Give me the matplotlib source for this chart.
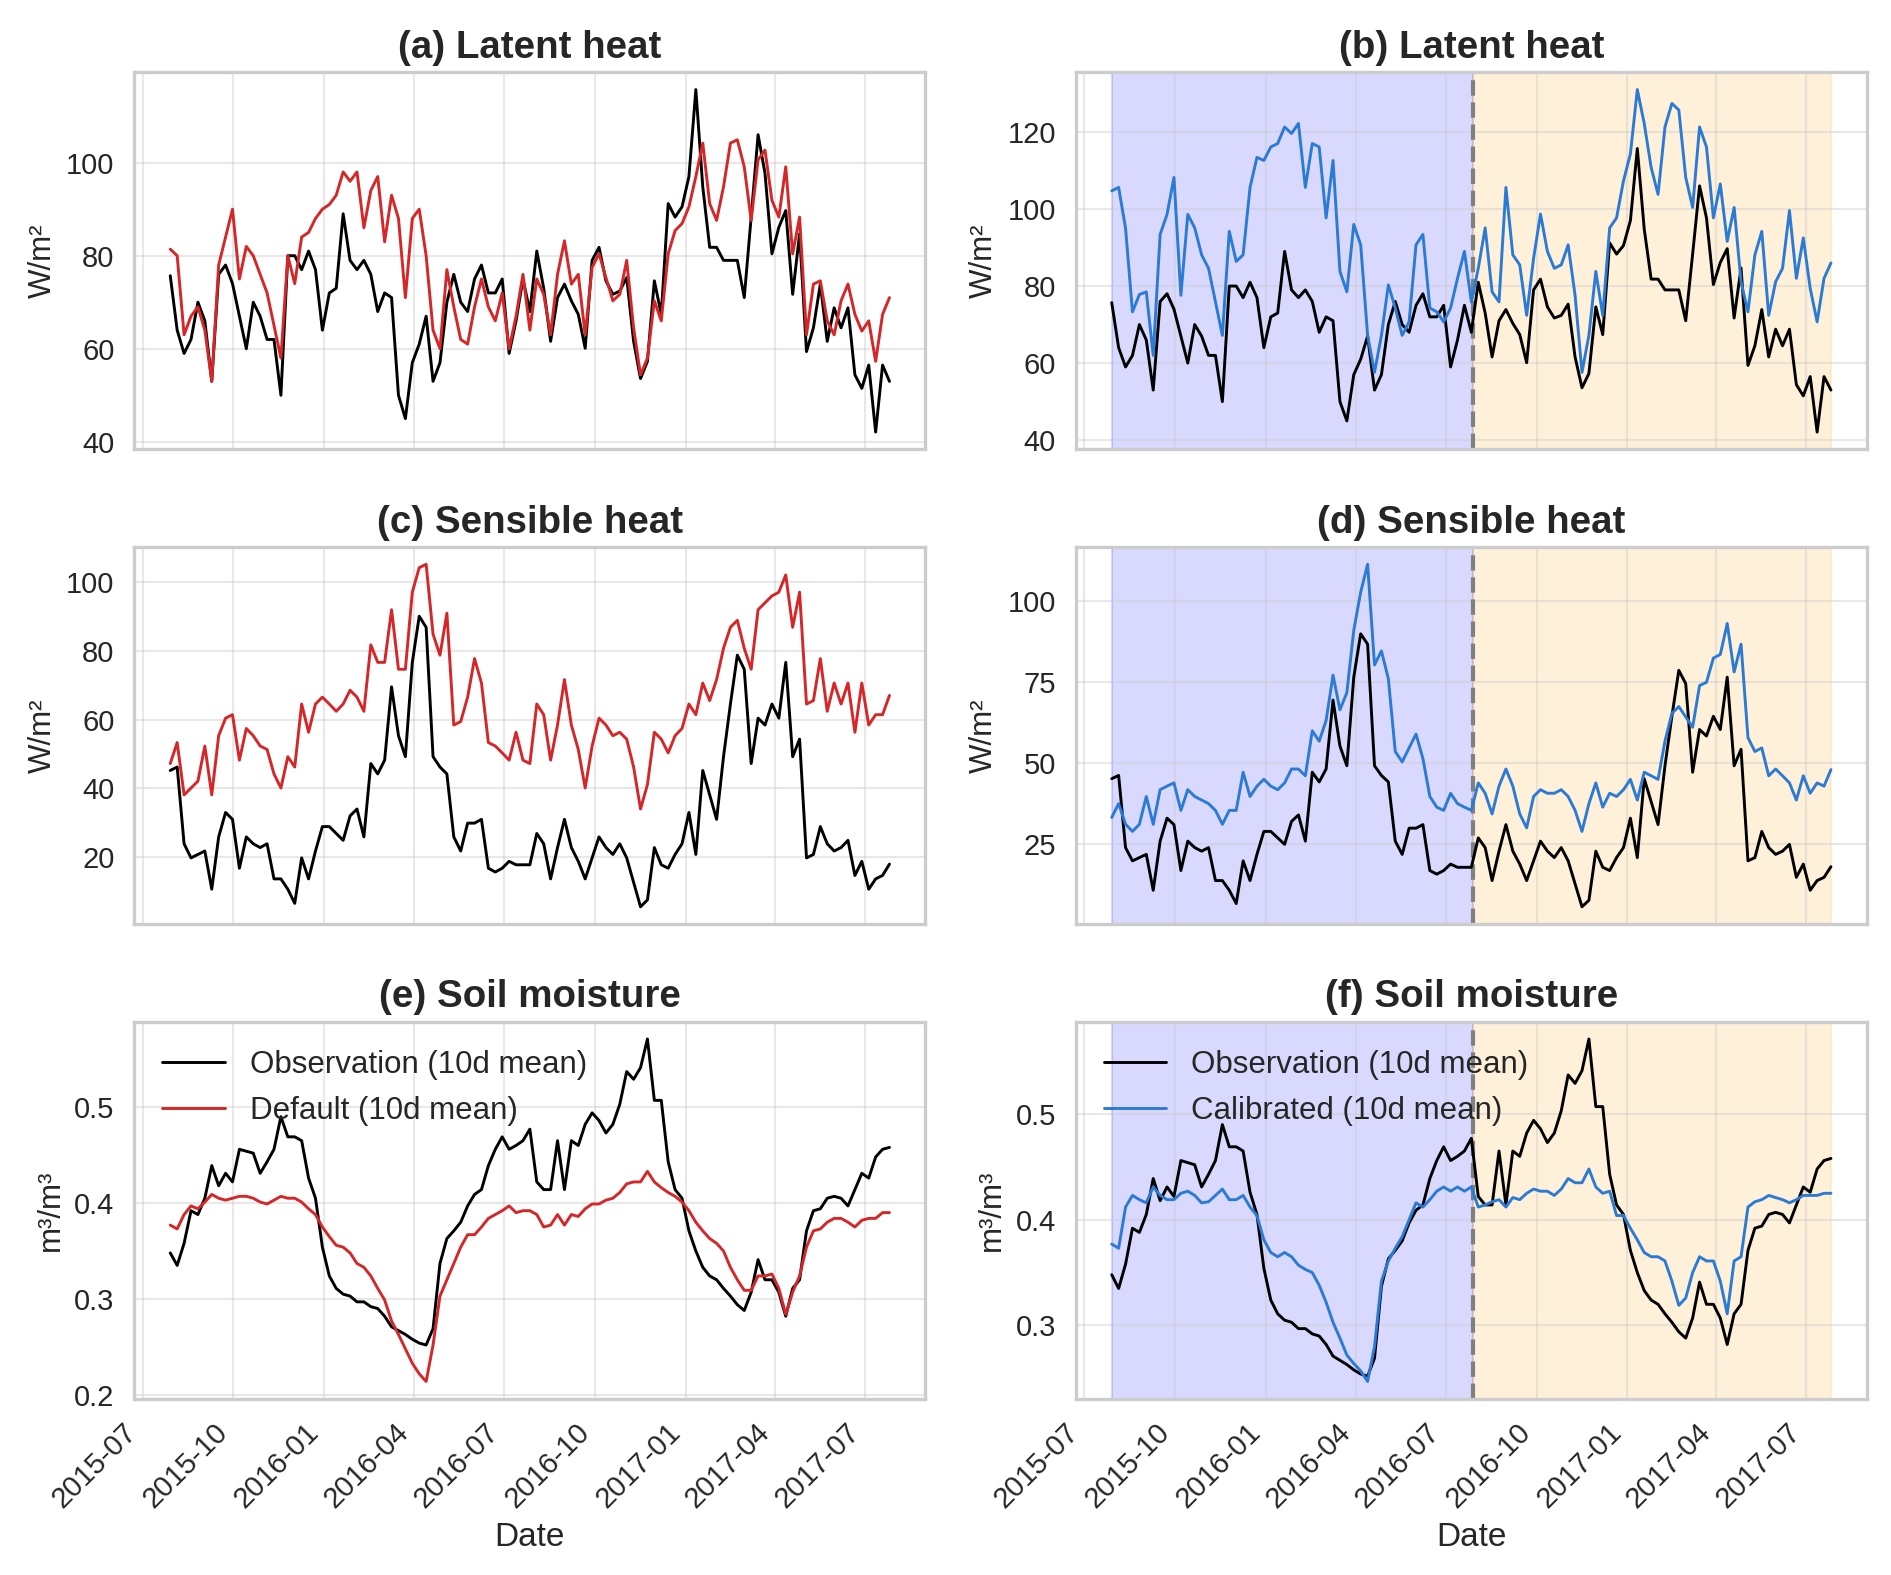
import matplotlib
matplotlib.use('Agg')
import matplotlib.pyplot as plt
import matplotlib.dates as mdates
from matplotlib.ticker import MultipleLocator
import pandas as pd
import seaborn as sns

dates = pd.date_range('2015-07-29', periods=105, freq='7D')
split_date = pd.Timestamp('2016-07-29')

le_obs = [75.7, 64, 59, 62, 70, 66, 53, 76, 78, 74, 67, 60, 70, 67, 62, 62, 50, 80, 80, 77,
          81, 77, 64, 72, 73, 89, 79, 77, 79, 76, 68, 72, 71, 50, 45, 57, 61, 67, 53, 57,
          70, 76, 70, 68, 75, 78, 72, 72, 75, 59, 66, 75, 68, 81, 73, 61.6, 71, 73.9, 70.3, 67.4,
          60.1, 79, 81.8, 74.6, 71.7, 72.4, 75.3, 61.6, 53.6, 57.3, 74.6, 67.4, 91.2, 88.3, 90.5, 97,
          115.7, 94.8, 81.8, 81.8, 79, 79, 79, 71, 88.3, 106, 97.7, 80.4, 86.1, 89.7, 71.7, 84.7,
          59.4, 64.5, 73.9, 61.6, 68.8, 64.5, 68.8, 54.4, 51.5, 56.5, 42.1, 56.5, 53]
le_default = [81.4, 80, 63, 67, 69, 64, 53, 78, 84, 90, 75, 82, 80, 76, 72, 65, 58, 80, 74, 84,
              85, 88, 90, 91, 93, 98, 96, 98, 86, 94, 97, 83, 93, 88, 71, 88, 90, 80, 64, 60,
              77, 69, 62, 61, 69, 75, 69, 66, 72, 60, 67, 76, 64, 75, 71.7, 63, 76, 83.2, 73.9, 76,
              63, 77.5, 80.4, 75.3, 70.3, 71.7, 79, 64.5, 54.4, 58, 70.3, 66, 80.4, 85.4, 86.9, 90.5,
              97, 104.2, 91.2, 87.6, 94.8, 104.2, 104.9, 99.1, 87.6, 100.6, 102.7, 91.9, 88.3, 99.1, 80.4, 88.3,
              63, 73.9, 74.6, 66, 63, 70.3, 73.9, 67.4, 63.8, 66, 57.3, 67.4, 71]
le_calib = [104.7, 105.6, 95, 73.3, 77.8, 78.5, 62, 93.4, 98.6, 108.2, 77.6, 98.6, 95.1, 88.1, 84.6,
            75.9, 67.2, 94.2, 86.4, 88.1, 105.6, 113.4, 112.6, 116.1, 117, 121.3, 119.6, 122.2, 105.6, 117,
            116.1, 97.7, 112.6, 83.8, 78.5, 96, 90.7, 67.2, 57.6, 67.2, 80.3, 74.3, 67.2, 70.7, 90.7,
            93.4, 74.3, 73.3, 70.7, 74.3, 82, 89, 75.9, 84.6, 95.1, 78.5, 75.9, 105.6, 88.1, 85.5,
            72.4, 87.2, 98.7, 89, 84.6, 85.5, 90.7, 77.6, 57.6, 67.2, 83.8, 72.4, 95.1, 97.7, 107.3,
            114.3, 131, 122.2, 110.8, 103.8, 121.3, 127.4, 125.7, 108.2, 100.4, 121.3, 116.1, 97.7, 106.5, 91.6,
            100.4, 81.1, 73.3, 88.1, 94.2, 72.4, 81.1, 84.6, 99.6, 82, 92.5, 79.4, 70.7, 82, 86]

h_obs = [45.2, 46.2, 23.9, 19.8, 20.8, 21.8, 10.7, 25.9, 33, 31, 16.8, 25.9, 23.9, 22.8, 23.9,
         13.7, 13.7, 10.7, 6.6, 19.8, 13.7, 21.8, 28.9, 28.9, 26.9, 24.9, 32, 34, 25.9, 47.2,
         44.2, 48.2, 69.5, 55.3, 49.2, 76.6, 90, 86.8, 49.2, 46.2, 44.2, 25.9, 21.8, 29.9, 29.9,
         31, 16.8, 15.7, 16.8, 18.8, 17.8, 17.8, 17.8, 26.9, 23.9, 13.7, 22.8, 31, 22.8, 18.8,
         13.7, 19.8, 25.9, 22.8, 20.8, 23.9, 19.8, 12.7, 5.6, 7.6, 22.8, 17.8, 16.8, 20.8, 23.9,
         33, 20.8, 45.2, 38.1, 31, 49.2, 64.5, 78.7, 74.6, 47.2, 60.4, 58.4, 64.5, 60.4, 76.6,
         49.2, 54.3, 19.8, 20.8, 28.9, 23.9, 21.8, 22.8, 24.9, 14.7, 18.8, 10.7, 13.7, 14.7, 18]
h_default = [47.2, 53.3, 38.1, 40.1, 42.1, 52.3, 38.1, 55.3, 60.4, 61.4, 48.2, 57.4, 55.3, 52.3, 51.3,
             44.2, 40.1, 49.2, 46.2, 64.5, 56.3, 64.5, 66.5, 64.5, 62.4, 64.5, 68.5, 66.5, 62.4, 81.7,
             76.6, 76.6, 91.9, 74.6, 74.6, 97, 104.1, 105.1, 84.8, 78.7, 90.9, 58.4, 59.4, 66.5, 77.7,
             70.6, 53.3, 52.3, 50.3, 48.2, 56.3, 48.2, 47.2, 64.5, 61.4, 48.2, 58.4, 71.6, 58.4, 51.3,
             40.1, 52.3, 60.4, 58.4, 55.3, 56.3, 54.3, 46.2, 34, 41.1, 56.3, 54.3, 50.3, 55.3, 57.4,
             64.5, 61.4, 70.6, 65.5, 71.6, 80.7, 86.8, 88.8, 80.7, 74.6, 91.9, 93.9, 95.9, 97, 102,
             86.8, 97, 64.5, 65.5, 77.7, 62.4, 70.6, 64.5, 70.6, 56.3, 70.6, 58.4, 61.4, 61.4, 67]
h_calib = [33.2, 37.5, 31.1, 28.9, 31.1, 39.7, 31.1, 41.8, 42.9, 43.9, 35.4, 41.8, 39.7, 38.6, 37.5,
           35.4, 31.1, 35.4, 35.4, 47.2, 39.7, 42.9, 45, 42.9, 41.8, 43.9, 48.2, 48.2, 46.1, 60,
           56.8, 63.2, 77.2, 66.5, 71.8, 91.1, 102.9, 111.5, 80.4, 84.7, 76.1, 53.6, 50.4, 54.7, 59,
           51.4, 39.7, 36.4, 35.4, 40.7, 37.5, 36.4, 35.4, 43.9, 40.7, 34.3, 42.9, 48.2, 42.9, 34.3,
           30, 39.7, 41.8, 40.7, 40.7, 41.8, 39.7, 35.4, 28.9, 37.5, 43.9, 36.4, 40.7, 39.7, 41.8,
           45, 38.6, 47.2, 46.1, 45, 56.8, 65.4, 67.5, 64.3, 61.1, 74, 75, 82.5, 83.6, 93.2,
           78.2, 86.8, 57.9, 53.6, 54.7, 46.1, 48.2, 46.1, 43.9, 38.6, 46.1, 40.7, 43.9, 42.9, 48]

sm_obs = [0.348, 0.335, 0.358, 0.392, 0.388, 0.405, 0.439, 0.418, 0.431, 0.422, 0.456, 0.454, 0.452, 0.431, 0.443,
          0.456, 0.49, 0.469, 0.469, 0.465, 0.426, 0.405, 0.354, 0.324, 0.311, 0.305, 0.303, 0.297, 0.297, 0.292,
          0.29, 0.282, 0.271, 0.267, 0.263, 0.258, 0.254, 0.252, 0.269, 0.337, 0.363, 0.371, 0.38, 0.397, 0.409,
          0.414, 0.439, 0.456, 0.469, 0.456, 0.46, 0.465, 0.477, 0.422, 0.414, 0.414, 0.465, 0.414, 0.465, 0.46,
          0.482, 0.494, 0.486, 0.473, 0.482, 0.503, 0.537, 0.529, 0.541, 0.571, 0.507, 0.507, 0.443, 0.414, 0.405,
          0.371, 0.35, 0.333, 0.324, 0.32, 0.311, 0.303, 0.294, 0.288, 0.307, 0.341, 0.32, 0.32, 0.307, 0.282,
          0.311, 0.32, 0.371, 0.392, 0.394, 0.405, 0.407, 0.405, 0.397, 0.414, 0.431, 0.426, 0.448, 0.456, 0.458]
sm_default = [0.377, 0.373, 0.388, 0.397, 0.394, 0.401, 0.409, 0.405, 0.403, 0.405, 0.407, 0.407, 0.405, 0.401, 0.399,
              0.403, 0.407, 0.405, 0.405, 0.401, 0.394, 0.388, 0.375, 0.365, 0.356, 0.354, 0.348, 0.337, 0.333, 0.324,
              0.311, 0.299, 0.277, 0.263, 0.248, 0.233, 0.222, 0.214, 0.252, 0.303, 0.32, 0.337, 0.354, 0.367, 0.367,
              0.375, 0.384, 0.388, 0.392, 0.397, 0.39, 0.392, 0.392, 0.388, 0.375, 0.377, 0.388, 0.377, 0.388, 0.386,
              0.394, 0.399, 0.399, 0.403, 0.405, 0.411, 0.42, 0.422, 0.422, 0.433, 0.422, 0.416, 0.411, 0.407, 0.401,
              0.392, 0.38, 0.371, 0.363, 0.358, 0.35, 0.333, 0.32, 0.309, 0.309, 0.324, 0.324, 0.326, 0.311, 0.284,
              0.307, 0.324, 0.354, 0.371, 0.373, 0.38, 0.384, 0.384, 0.38, 0.375, 0.382, 0.384, 0.384, 0.39, 0.39]
sm_calib = [0.377, 0.373, 0.412, 0.423, 0.419, 0.416, 0.431, 0.423, 0.419, 0.419, 0.425, 0.427, 0.423, 0.416, 0.417,
            0.423, 0.429, 0.419, 0.419, 0.423, 0.412, 0.404, 0.381, 0.369, 0.365, 0.369, 0.365, 0.357, 0.353, 0.35,
            0.338, 0.322, 0.303, 0.288, 0.272, 0.264, 0.257, 0.247, 0.28, 0.342, 0.361, 0.373, 0.384, 0.4, 0.416,
            0.412, 0.419, 0.427, 0.431, 0.427, 0.431, 0.427, 0.431, 0.412, 0.414, 0.417, 0.419, 0.412, 0.421, 0.419,
            0.425, 0.429, 0.427, 0.427, 0.423, 0.429, 0.439, 0.435, 0.435, 0.448, 0.431, 0.425, 0.427, 0.404, 0.404,
            0.392, 0.381, 0.369, 0.365, 0.365, 0.361, 0.342, 0.319, 0.326, 0.35, 0.365, 0.361, 0.361, 0.342, 0.311,
            0.361, 0.365, 0.412, 0.417, 0.419, 0.423, 0.421, 0.419, 0.416, 0.419, 0.423, 0.423, 0.423, 0.425, 0.425]

RED = '#d62728'
BLUE = '#2b7bd4'


def main():
    sns.set_theme(style='whitegrid')
    plt.rcParams['font.family'] = ['Liberation Sans', 'DejaVu Sans']
    plt.rcParams['axes.edgecolor'] = '#cccccc'
    plt.rcParams['axes.linewidth'] = 1.6

    fig, axs = plt.subplots(3, 2, figsize=(12.61, 10.5), sharex='col')
    fig.subplots_adjust(left=0.071, right=0.987, top=0.954, bottom=0.112,
                        wspace=0.19, hspace=0.26)

    rows = [
        ('Latent heat', 'W/m²', le_obs, le_default, le_calib, (20, 20)),
        ('Sensible heat', 'W/m²', h_obs, h_default, h_calib, (20, 25)),
        ('Soil moisture', 'm³/m³', sm_obs, sm_default, sm_calib, (0.1, 0.1)),
    ]
    letters = 'abcdef'
    for i, (name, unit, obs, dflt, cal, steps) in enumerate(rows):
        ax_l, ax_r = axs[i]
        ax_r.axvspan(dates[0], split_date, color='blue', alpha=0.15, zorder=0)
        ax_r.axvspan(split_date, dates[-1], color='orange', alpha=0.15, zorder=0)
        ax_r.axvline(split_date, color='gray', ls='--', lw=2, zorder=1)

        ax_l.plot(dates, obs, color='black', lw=1.4, label='Observation (10d mean)')
        ax_l.plot(dates, dflt, color=RED, lw=1.4, label='Default (10d mean)')
        ax_r.plot(dates, obs, color='black', lw=1.4, label='Observation (10d mean)')
        ax_r.plot(dates, cal, color=BLUE, lw=1.4, label='Calibrated (10d mean)')

        for j, ax in enumerate((ax_l, ax_r)):
            ax.set_title('(%s) %s' % (letters[2 * i + j], name), fontsize=18.5,
                         fontweight='bold', pad=7)
            ax.set_ylabel(unit, fontsize=15)
            ax.yaxis.set_major_locator(MultipleLocator(steps[j]))
            ax.tick_params(labelsize=14)
            ax.grid(alpha=0.45)
            if i == 2:
                ax.legend(loc='upper left', frameon=False, fontsize=15)
                ax.set_xlabel('Date', fontsize=16)

    for ax in axs[2]:
        ax.xaxis.set_major_locator(mdates.MonthLocator(bymonth=[1, 4, 7, 10]))
        ax.xaxis.set_major_formatter(mdates.DateFormatter('%Y-%m'))
        plt.setp(ax.get_xticklabels(), rotation=45, ha='right')

    plt.savefig('out.png', dpi=150)


if __name__ == '__main__':
    main()
